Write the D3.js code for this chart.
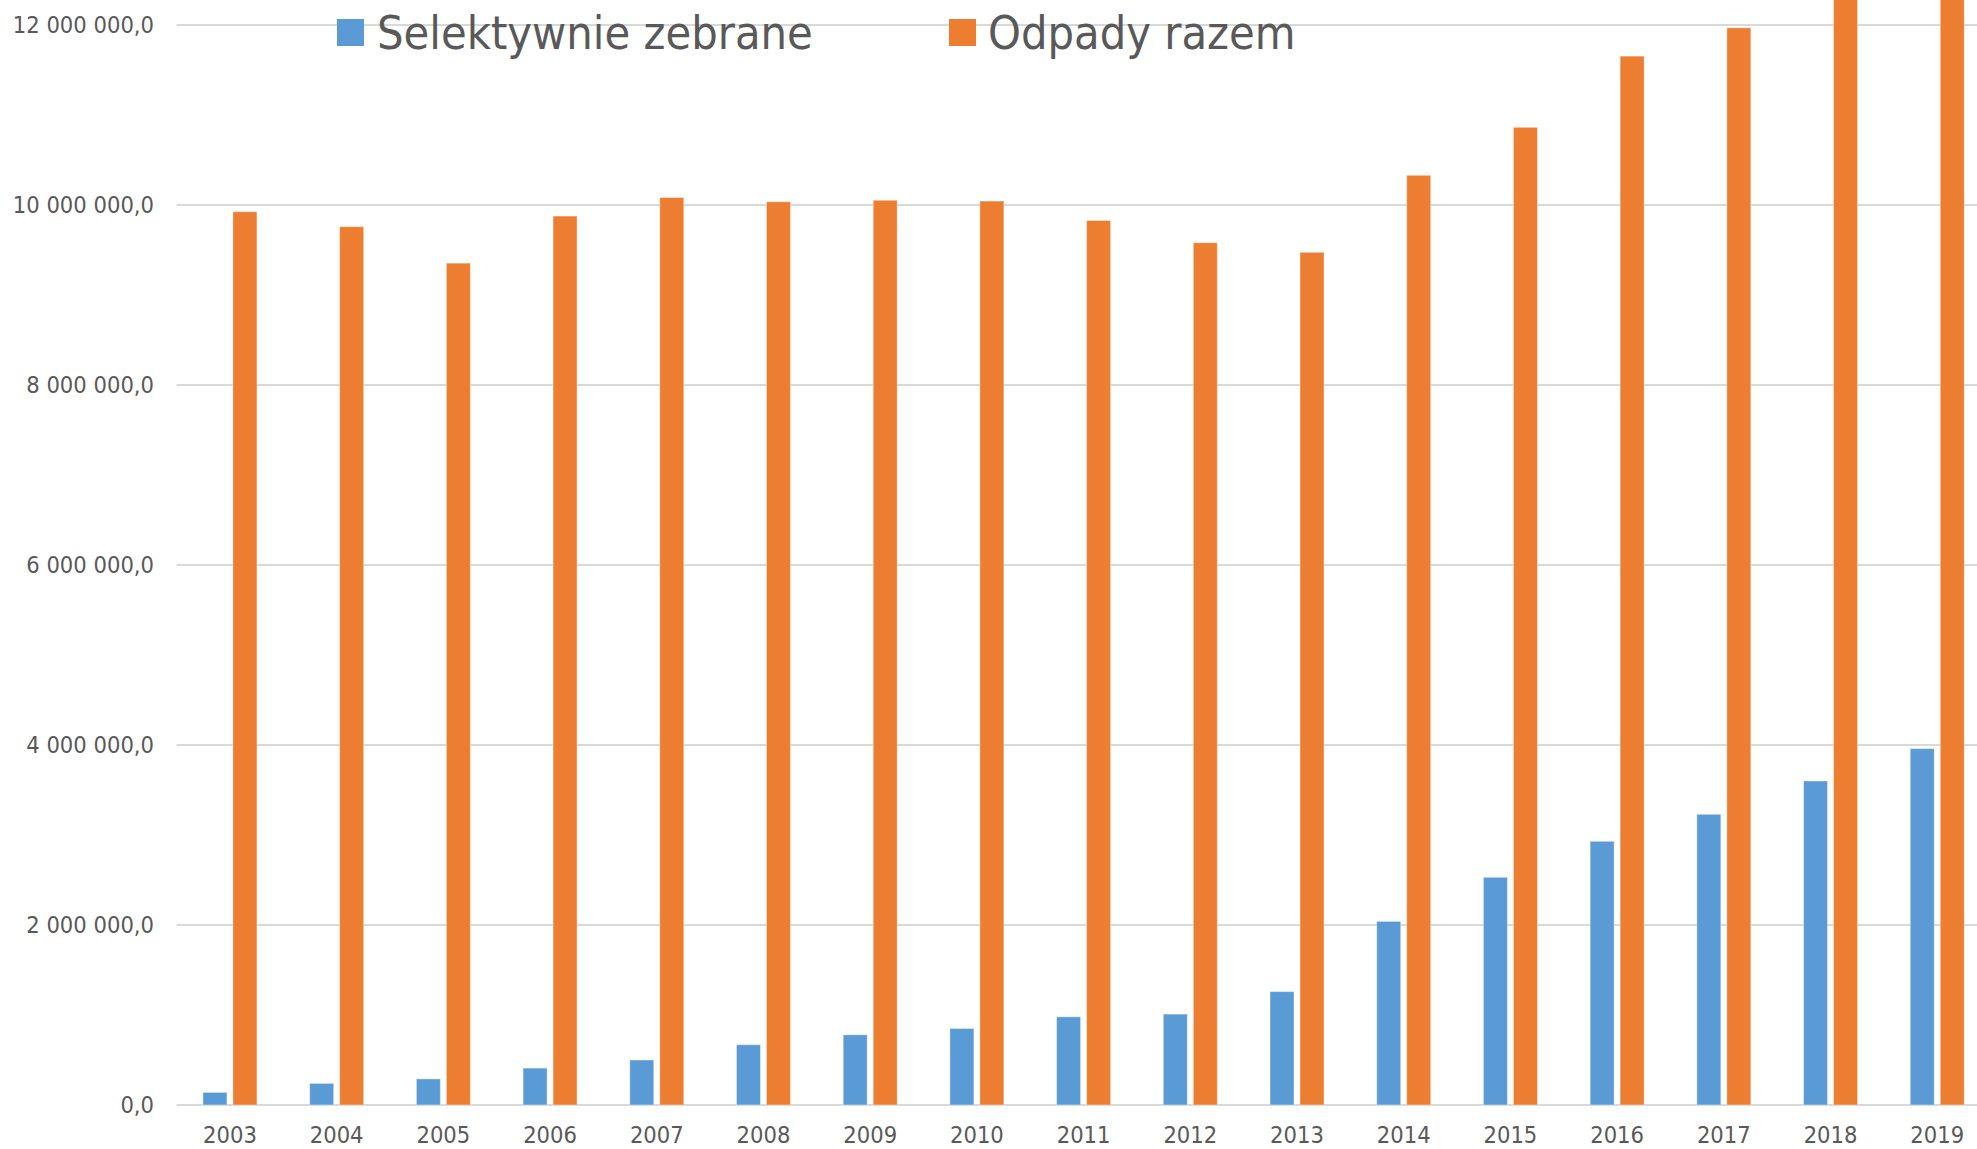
<!DOCTYPE html>
<html><head><meta charset="utf-8">
<script src="https://cdn.jsdelivr.net/npm/d3@7"></script>
<style>body{margin:0;background:#fff;overflow:hidden}svg{display:block}</style>
</head><body>
<svg id="c" width="1977" height="1149"></svg>
<script>
const years = ["2003","2004","2005","2006","2007","2008","2009","2010","2011","2012","2013","2014","2015","2016","2017","2018","2019"];
const selektywnie = [140000,240000,290000,410000,500000,670000,780000,850000,980000,1010000,1260000,2040000,2530000,2930000,3230000,3600000,3960000];
const razem = [9925000,9759000,9354000,9877000,10083000,10036000,10053000,10044000,9828000,9581000,9474000,10330000,10863000,11654000,11969000,12485000,12753000];
const seriesNames = ["Selektywnie zebrane","Odpady razem"];
const colors = ["#5B9BD5","#ED7D31"];
const yTicks = [0,2000000,4000000,6000000,8000000,10000000,12000000];

const W=1977,H=1149;
const svg=d3.select("#c");
const font="'DejaVu Sans Condensed','DejaVu Sans',sans-serif";
const x=d3.scaleBand().domain(years).range([176.6,1990.6]).paddingInner(0).paddingOuter(0);
const y=d3.scaleLinear().domain([0,12000000]).range([1105,25]);
const loc=d3.formatLocale({decimal:",",thousands:"\u00a0",grouping:[3],currency:["",""]});
const fmt=loc.format(",.1f");

// grid
svg.append("g").selectAll("line").data(yTicks).join("line")
 .attr("x1",176.6).attr("x2",W).attr("y1",d=>y(d)).attr("y2",d=>y(d))
 .attr("stroke","#d9d9d9").attr("stroke-width",2);

// y labels
svg.append("g").selectAll("text").data(yTicks).join("text")
 .attr("x",154).attr("y",d=>y(d)).attr("dy","0.36em").attr("text-anchor","end")
 .attr("font-family",font).attr("font-size",23.5).attr("fill","#595959")
 .text(d=>fmt(d).replace(/\u00a0/g," "));

// bars
const bw=24, gap=6;
const data=[selektywnie,razem];
const g=svg.append("g");
data.forEach((arr,si)=>{
  g.append("g").selectAll("rect").data(arr).join("rect")
   .attr("x",(d,i)=>x(years[i])+x.bandwidth()/2+(si===0?-(bw+gap/2):gap/2))
   .attr("width",bw)
   .attr("y",d=>y(d)).attr("height",d=>y(0)-y(d))
   .attr("fill",colors[si])
   .attr("stroke","#ffffff").attr("stroke-opacity",0.4).attr("stroke-width",1);
});

// x labels
svg.append("g").selectAll("text").data(years).join("text")
 .attr("x",d=>x(d)+x.bandwidth()/2).attr("y",1143).attr("text-anchor","middle")
 .attr("font-family",font).attr("font-size",23.5).attr("fill","#595959").text(d=>d);

// legend
const leg=[{x:337,tx:377},{x:949,tx:988}];
seriesNames.forEach((n,i)=>{
  svg.append("rect").attr("x",leg[i].x).attr("y",19).attr("width",27).attr("height",27).attr("fill",colors[i]);
  svg.append("text").attr("x",leg[i].tx).attr("y",32).attr("dy","0.36em")
   .attr("font-family",font).attr("font-size",46.5).attr("fill","#595959").text(n);
});
</script>
</body></html>
